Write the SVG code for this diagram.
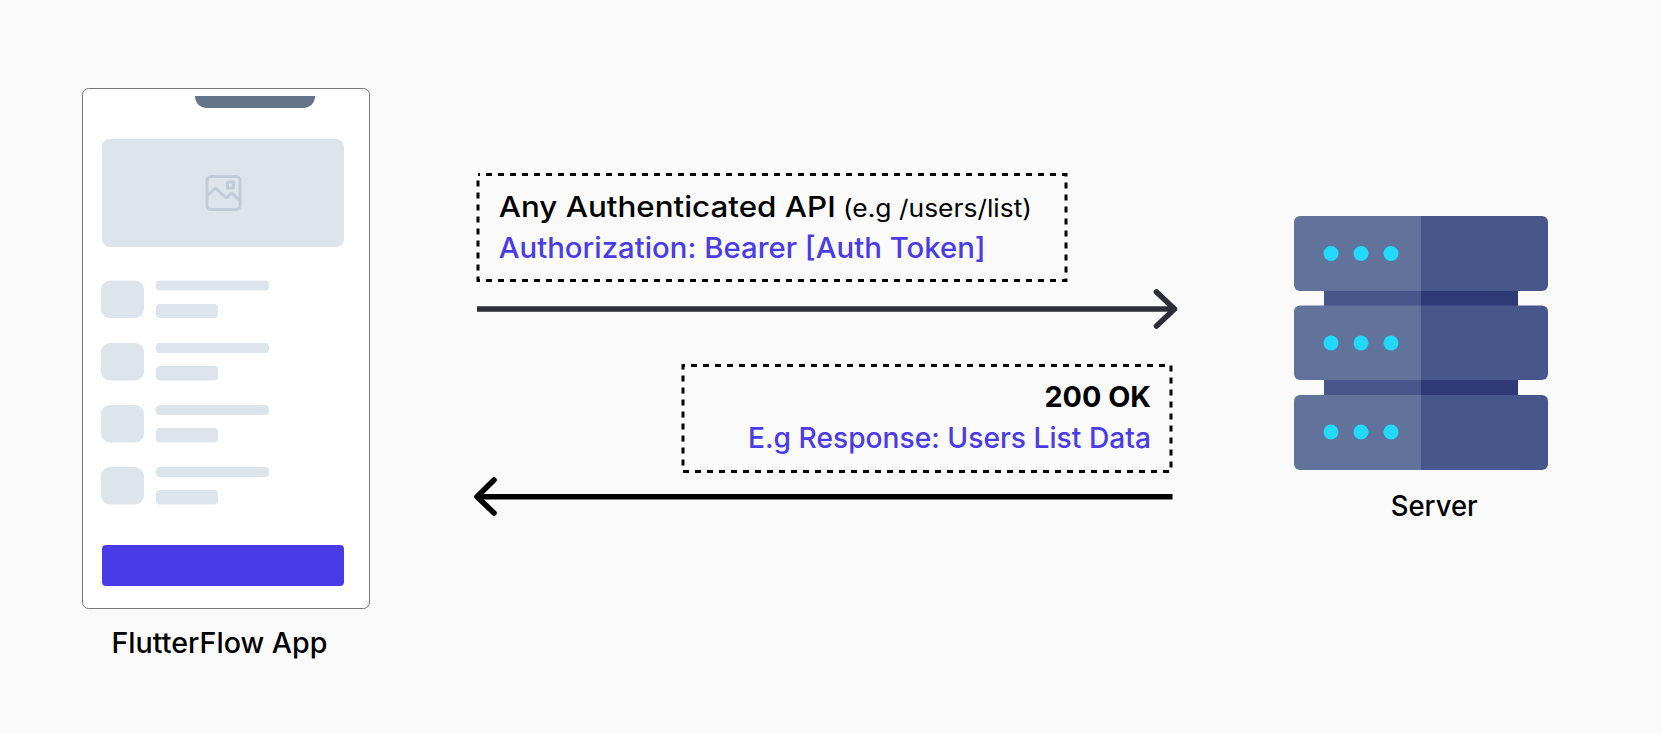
<svg xmlns="http://www.w3.org/2000/svg" width="1661" height="734" viewBox="0 0 1661 734">
<style>
.sk{fill:#dee4ec}
.t{font-family:"Inter","Noto Sans","Liberation Sans",sans-serif;font-weight:500;fill:#000}
.n{font-weight:400}
.b{fill:#4a3be8}
.dash{fill:none;stroke:#000;stroke-width:3;stroke-dasharray:6 6;stroke-dashoffset:4}
.arr{fill:none;stroke-width:5.500;stroke-linecap:butt}
.hd{fill:none;stroke-width:5.500;stroke-linecap:round;stroke-linejoin:round}
.lt{fill:#61739a}.dk{fill:#47568b}.dot{fill:#22d9fb}
</style>
<rect width="1661" height="734" fill="#fafafa"/>
<g id="phone">
<rect x="82.500" y="88.500" width="287" height="520" rx="6" fill="#fff" stroke="#777" stroke-width="1"/>
<path d="M195 96H315C315 103 310 108 303 108H207C200 108 195 103 195 96Z" fill="#64748b"/>
<rect class="sk" x="102" y="139" width="242" height="108" rx="8"/>
<g fill="none" stroke="#c2ccd8" stroke-width="3" stroke-linejoin="round">
<rect x="207" y="176.500" width="33" height="33" rx="4"/>
<rect x="227.500" y="182" width="6" height="6"/>
<path d="M207 196L215.500 188L226 198L232 193L240 201"/>
</g>
<g id="row1"><rect class="sk" x="101" y="280.500" width="43" height="37.500" rx="9"/><rect class="sk" x="156" y="280.500" width="113" height="10" rx="4"/><rect class="sk" x="156" y="304" width="62" height="14" rx="4"/></g>
<g id="row2"><rect class="sk" x="101" y="343" width="43" height="37.500" rx="9"/><rect class="sk" x="156" y="343" width="113" height="10" rx="4"/><rect class="sk" x="156" y="366" width="62" height="14.500" rx="4"/></g>
<g id="row3"><rect class="sk" x="101" y="405" width="43" height="37.500" rx="9"/><rect class="sk" x="156" y="405" width="113" height="10" rx="4"/><rect class="sk" x="156" y="428" width="62" height="14.500" rx="4"/></g>
<g id="row4"><rect class="sk" x="101" y="467" width="43" height="37.500" rx="9"/><rect class="sk" x="156" y="467" width="113" height="10" rx="4"/><rect class="sk" x="156" y="490" width="62" height="14.500" rx="4"/></g>
<rect x="102" y="545" width="242" height="41" rx="4" fill="#4a3be8"/>
<text class="t" x="111.500" y="652.700" font-size="28" textLength="216" lengthAdjust="spacingAndGlyphs">FlutterFlow App</text>
</g>
<g id="request">
<rect class="dash" x="478" y="174.500" width="588" height="106"/>
<text class="t" x="498.700" y="216.700" font-size="28.500" textLength="337" lengthAdjust="spacingAndGlyphs">Any Authenticated API</text>
<text class="t n" x="843" y="216.700" font-size="24.500" textLength="189" lengthAdjust="spacingAndGlyphs">(e.g /users/list)</text>
<text class="t b" x="498.700" y="258.300" font-size="28.500" textLength="487" lengthAdjust="spacingAndGlyphs">Authorization: Bearer [Auth Token]</text>
</g>
<g id="response">
<rect class="dash" x="683" y="365.500" width="488" height="106"/>
<text class="t" x="1044.500" y="406.700" font-size="29" textLength="106.500" lengthAdjust="spacingAndGlyphs" style="font-weight:700">200 OK</text>
<text class="t b" x="748" y="448.300" font-size="28.500" textLength="403" lengthAdjust="spacingAndGlyphs">E.g Response: Users List Data</text>
</g>
<g id="connectors">
<path class="arr" stroke="#2d2d3a" d="M477 309H1172"/>
<path class="hd" stroke="#2d2d3a" d="M1156.500 292L1174.500 309L1156.500 326"/>
<path class="arr" stroke="#000" d="M1172.500 496.700H478"/>
<path class="hd" stroke="#000" d="M494 480L477 496.700L494 513"/>
</g>
<g id="server">
<rect class="dk" x="1324" y="290" width="97" height="16"/><rect x="1421" y="290" width="97" height="16" fill="#2d3a75"/>
<rect class="dk" x="1324" y="379" width="97" height="17"/><rect x="1421" y="379" width="97" height="17" fill="#2d3a75"/>
<g id="unit1"><path class="lt" d="M1421 216H1300a6 6 0 0 0-6 6V285a6 6 0 0 0 6 6H1421Z"/><path class="dk" d="M1421 216H1542a6 6 0 0 1 6 6V285a6 6 0 0 1-6 6H1421Z"/><circle class="dot" cx="1331" cy="253.500" r="7.500"/><circle class="dot" cx="1361" cy="253.500" r="7.500"/><circle class="dot" cx="1391" cy="253.500" r="7.500"/></g>
<g id="unit2"><path class="lt" d="M1421 305.500H1300a6 6 0 0 0-6 6V374a6 6 0 0 0 6 6H1421Z"/><path class="dk" d="M1421 305.500H1542a6 6 0 0 1 6 6V374a6 6 0 0 1-6 6H1421Z"/><circle class="dot" cx="1331" cy="343" r="7.500"/><circle class="dot" cx="1361" cy="343" r="7.500"/><circle class="dot" cx="1391" cy="343" r="7.500"/></g>
<g id="unit3"><path class="lt" d="M1421 395H1300a6 6 0 0 0-6 6V464a6 6 0 0 0 6 6H1421Z"/><path class="dk" d="M1421 395H1542a6 6 0 0 1 6 6V464a6 6 0 0 1-6 6H1421Z"/><circle class="dot" cx="1331" cy="432" r="7.500"/><circle class="dot" cx="1361" cy="432" r="7.500"/><circle class="dot" cx="1391" cy="432" r="7.500"/></g>
<text class="t" x="1390.700" y="515.700" font-size="28" textLength="87" lengthAdjust="spacingAndGlyphs">Server</text>
</g>
</svg>
